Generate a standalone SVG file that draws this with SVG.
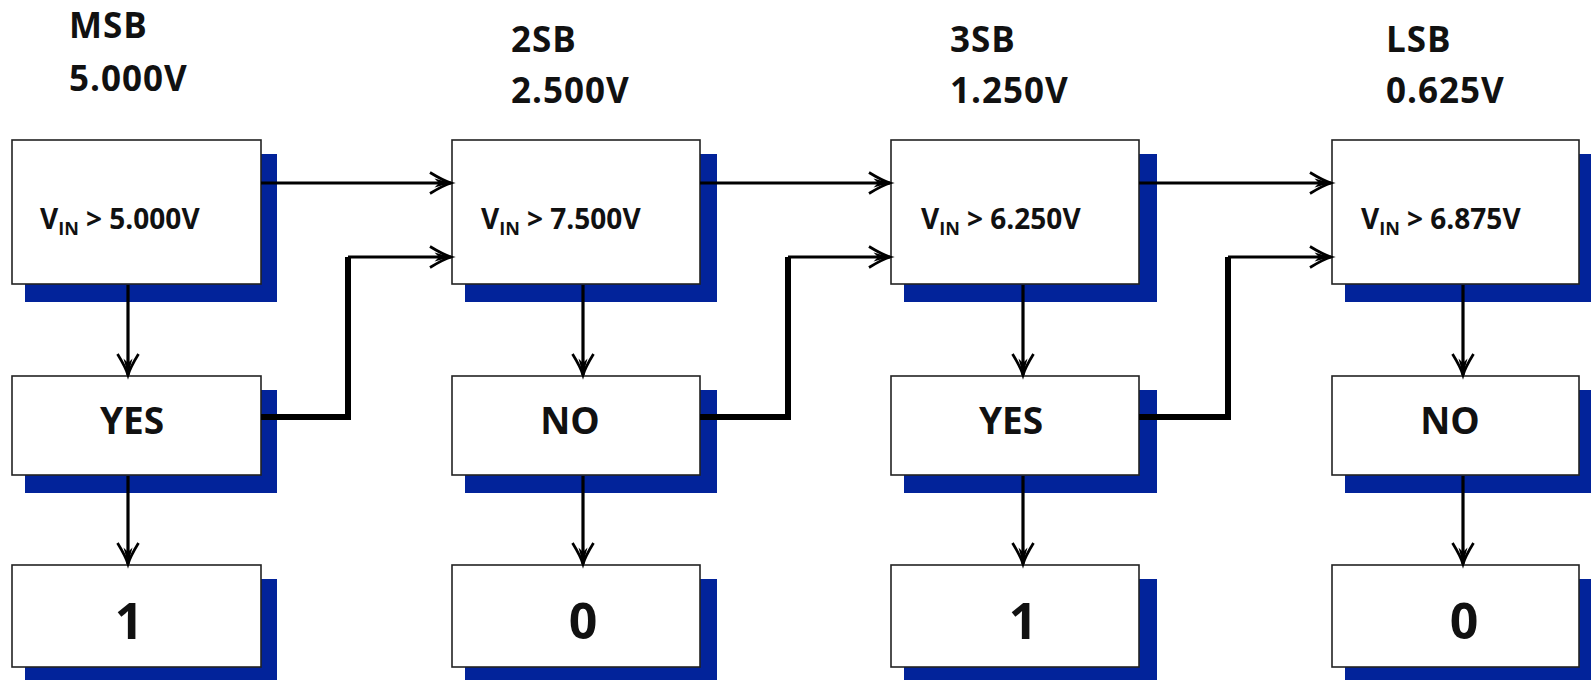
<svg xmlns="http://www.w3.org/2000/svg" width="1591" height="680" viewBox="0 0 1591 680">
  <style>
    .shadow { fill: #02239a; }
    .box { fill: #ffffff; stroke: #222222; stroke-width: 1.6; }
    .hdr { font-family: "Open Sans", "Liberation Sans", sans-serif; font-weight: bold; font-size: 35px; letter-spacing: 1px; fill: #111111; }
    .cmp { font-family: "Open Sans", "Liberation Sans", sans-serif; font-weight: bold; font-size: 28px; fill: #111111; }
    .sub { font-size: 18px; }
    .res { font-family: "Open Sans", "Liberation Sans", sans-serif; font-weight: bold; font-size: 37px; fill: #111111; text-anchor: middle; }
    .bit { font-family: "Open Sans", "Liberation Sans", sans-serif; font-weight: bold; font-size: 50px; fill: #111111; text-anchor: middle; }
    .arrow { fill: none; stroke: #000000; stroke-width: 3.2; marker-end: url(#ah); }
    .thick { fill: none; stroke: #000000; stroke-width: 6; stroke-linejoin: miter; }
  </style>
  <defs>
    <marker id="ah" markerUnits="userSpaceOnUse" markerWidth="30" markerHeight="30" viewBox="-16 -10 18 20" refX="0" refY="0" orient="auto" overflow="visible">
      <path d="M-14,-7 Q-5,-1.5 0,0 Q-5,1.5 -14,7" fill="none" stroke="#000000" stroke-width="1.8"/>
      <path d="M0,0 L-11,-3 L-8,0 L-11,3 Z" fill="#000000"/>
    </marker>
  </defs>

  <!-- Column 1 -->
  <g id="hdr-msb">
    <text class="hdr" x="69" y="38">MSB</text>
    <text class="hdr" x="69" y="91">5.000V</text>
  </g>
  <g id="cmp1">
    <rect class="shadow" x="25" y="154" width="252" height="148"/>
    <rect class="box" x="12" y="140" width="249" height="144"/>
    <text class="cmp" x="40" y="229">V<tspan class="sub" dy="6">IN</tspan><tspan dy="-6"> &gt; 5.000V</tspan></text>
  </g>
  <g id="res1">
    <rect class="shadow" x="25" y="390" width="252" height="103"/>
    <rect class="box" x="12" y="376" width="249" height="99"/>
    <text class="res" x="132" y="434">YES</text>
  </g>
  <g id="bit1">
    <rect class="shadow" x="25" y="579" width="252" height="106"/>
    <rect class="box" x="12" y="565" width="249" height="102"/>
    <text class="bit" x="129" y="639">1</text>
  </g>

  <!-- Column 2 -->
  <g id="hdr-2sb">
    <text class="hdr" x="511" y="52">2SB</text>
    <text class="hdr" x="511" y="103">2.500V</text>
  </g>
  <g id="cmp2">
    <rect class="shadow" x="465" y="154" width="252" height="148"/>
    <rect class="box" x="452" y="140" width="248" height="144"/>
    <text class="cmp" x="481" y="229">V<tspan class="sub" dy="6">IN</tspan><tspan dy="-6"> &gt; 7.500V</tspan></text>
  </g>
  <g id="res2">
    <rect class="shadow" x="465" y="390" width="252" height="103"/>
    <rect class="box" x="452" y="376" width="248" height="99"/>
    <text class="res" x="570" y="434">NO</text>
  </g>
  <g id="bit2">
    <rect class="shadow" x="465" y="579" width="252" height="106"/>
    <rect class="box" x="452" y="565" width="248" height="102"/>
    <text class="bit" x="583" y="639">0</text>
  </g>

  <!-- Column 3 -->
  <g id="hdr-3sb">
    <text class="hdr" x="950" y="52">3SB</text>
    <text class="hdr" x="950" y="103">1.250V</text>
  </g>
  <g id="cmp3">
    <rect class="shadow" x="904" y="154" width="253" height="148"/>
    <rect class="box" x="891" y="140" width="248" height="144"/>
    <text class="cmp" x="921" y="229">V<tspan class="sub" dy="6">IN</tspan><tspan dy="-6"> &gt; 6.250V</tspan></text>
  </g>
  <g id="res3">
    <rect class="shadow" x="904" y="390" width="253" height="103"/>
    <rect class="box" x="891" y="376" width="248" height="99"/>
    <text class="res" x="1011" y="434">YES</text>
  </g>
  <g id="bit3">
    <rect class="shadow" x="904" y="579" width="253" height="106"/>
    <rect class="box" x="891" y="565" width="248" height="102"/>
    <text class="bit" x="1023" y="639">1</text>
  </g>

  <!-- Column 4 -->
  <g id="hdr-lsb">
    <text class="hdr" x="1386" y="52">LSB</text>
    <text class="hdr" x="1386" y="103">0.625V</text>
  </g>
  <g id="cmp4">
    <rect class="shadow" x="1345" y="154" width="252" height="148"/>
    <rect class="box" x="1332" y="140" width="247" height="144"/>
    <text class="cmp" x="1361" y="229">V<tspan class="sub" dy="6">IN</tspan><tspan dy="-6"> &gt; 6.875V</tspan></text>
  </g>
  <g id="res4">
    <rect class="shadow" x="1345" y="390" width="252" height="103"/>
    <rect class="box" x="1332" y="376" width="247" height="99"/>
    <text class="res" x="1450" y="434">NO</text>
  </g>
  <g id="bit4">
    <rect class="shadow" x="1345" y="579" width="252" height="106"/>
    <rect class="box" x="1332" y="565" width="247" height="102"/>
    <text class="bit" x="1464" y="639">0</text>
  </g>

  <!-- Connectors -->
  <g id="connectors">
    <path class="arrow" d="M128,285 V375"/>
    <path class="arrow" d="M128,476 V564"/>
    <path class="arrow" d="M583,285 V375"/>
    <path class="arrow" d="M583,476 V564"/>
    <path class="arrow" d="M1023,285 V375"/>
    <path class="arrow" d="M1023,476 V564"/>
    <path class="arrow" d="M1463,285 V375"/>
    <path class="arrow" d="M1463,476 V564"/>
    <path class="arrow" d="M261,183 H451"/>
    <path class="arrow" d="M700,183 H890"/>
    <path class="arrow" d="M1139,183 H1331"/>
    <path class="thick" d="M261,417 H348 V257"/>
    <path class="arrow" d="M348,257 H451"/>
    <path class="thick" d="M700,417 H788 V257"/>
    <path class="arrow" d="M788,257 H890"/>
    <path class="thick" d="M1139,417 H1228 V257"/>
    <path class="arrow" d="M1228,257 H1331"/>
  </g>
</svg>
